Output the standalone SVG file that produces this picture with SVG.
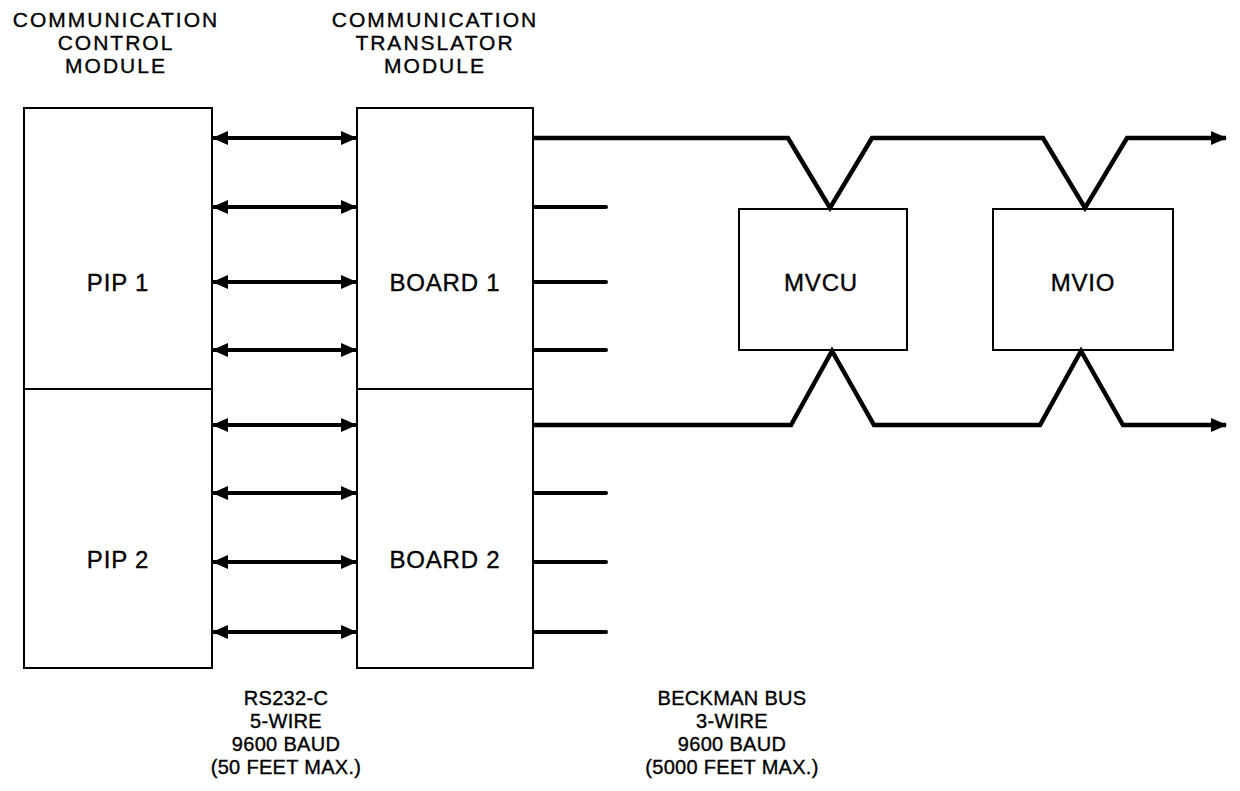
<svg xmlns="http://www.w3.org/2000/svg" width="1240" height="791" viewBox="0 0 1240 791">
<defs>
<style>
text{font-family:"Liberation Sans",Arial,sans-serif;fill:#000;stroke:#000;stroke-width:0.35;text-anchor:middle}
.t{font-size:21px;letter-spacing:2px}
.l{font-size:24px;letter-spacing:0.8px}
.b{font-size:20px;letter-spacing:0.3px}
.box{fill:#fff;stroke:#000;stroke-width:2}
.w{stroke:#000;stroke-width:4;fill:none}
.s{stroke:#000;stroke-width:4;stroke-linecap:round;fill:none}
.bus{stroke:#000;stroke-width:4.5;fill:none;stroke-linejoin:miter}
</style>
<marker id="ah" markerUnits="userSpaceOnUse" markerWidth="16" markerHeight="14" refX="15" refY="7" orient="auto-start-reverse">
<path d="M0,0 L16,7 L0,14 Z" fill="#000"/>
</marker>
</defs>
<rect width="1240" height="791" fill="#fff"/>
<g id="title-ccm">
<text class="t" x="116" y="27">COMMUNICATION</text>
<text class="t" x="116" y="50">CONTROL</text>
<text class="t" x="116" y="73">MODULE</text>
</g>
<g id="title-ctm">
<text class="t" x="435" y="27">COMMUNICATION</text>
<text class="t" x="435" y="50">TRANSLATOR</text>
<text class="t" x="435" y="73">MODULE</text>
</g>
<g id="pip1"><rect class="box" x="24" y="108" width="188" height="281"/><text class="l" x="118" y="291">PIP 1</text></g>
<g id="pip2"><rect class="box" x="24" y="389" width="188" height="279"/><text class="l" x="118" y="568">PIP 2</text></g>
<g id="board1"><rect class="box" x="357" y="108" width="176" height="281"/><text class="l" x="445" y="291">BOARD 1</text></g>
<g id="board2"><rect class="box" x="357" y="389" width="176" height="279"/><text class="l" x="445" y="568">BOARD 2</text></g>
<g id="mvcu"><rect class="box" x="739" y="209" width="168" height="141"/><text class="l" x="821" y="291">MVCU</text></g>
<g id="mvio"><rect class="box" x="993" y="209" width="180" height="141"/><text class="l" x="1083" y="291">MVIO</text></g>
<g id="connectors">
<g class="w" marker-start="url(#ah)" marker-end="url(#ah)">
<path d="M213,138H356"/>
<path d="M213,207H356"/>
<path d="M213,282H356"/>
<path d="M213,350H356"/>
<path d="M213,425H356"/>
<path d="M213,493H356"/>
<path d="M213,562H356"/>
<path d="M213,632H356"/>
</g>
<g class="s">
<path d="M534,207H606"/>
<path d="M534,282H606"/>
<path d="M534,350H606"/>
<path d="M534,493H606"/>
<path d="M534,562H606"/>
<path d="M534,632H606"/>
</g>
<path class="bus" d="M534,138H788L830,208L872,138H1043L1085,208L1127,138H1226" marker-end="url(#ah)"/>
<path class="bus" d="M534,425H791L832,351L874,425H1040L1081,351L1123,425H1226" marker-end="url(#ah)"/>
</g>
<g id="label-rs232">
<text class="b" x="286" y="705">RS232-C</text>
<text class="b" x="286" y="728">5-WIRE</text>
<text class="b" x="286" y="751">9600 BAUD</text>
<text class="b" x="286" y="774">(50 FEET MAX.)</text>
</g>
<g id="label-beckman">
<text class="b" x="732" y="705">BECKMAN BUS</text>
<text class="b" x="732" y="728">3-WIRE</text>
<text class="b" x="732" y="751">9600 BAUD</text>
<text class="b" x="732" y="774">(5000 FEET MAX.)</text>
</g>
</svg>
